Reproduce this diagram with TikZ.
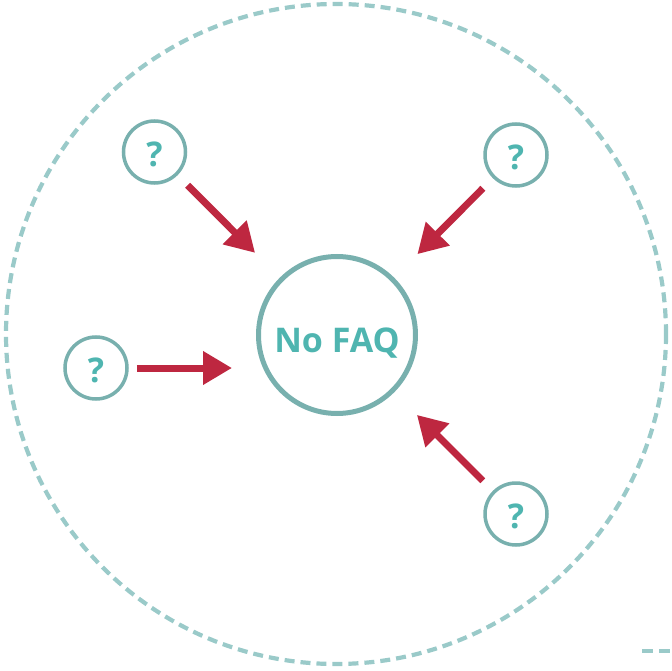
\documentclass[tikz,border=0pt]{standalone}
\usepackage{fontspec}
\setmainfont{Open Sans}
\usetikzlibrary{arrows.meta}
\definecolor{ringteal}{HTML}{9ACAC9}
\definecolor{circteal}{HTML}{78B0AE}
\definecolor{textteal}{HTML}{4FB5B0}
\definecolor{arrowred}{HTML}{BE2740}
\tikzset{
  outerring/.style={draw=ringteal, line width=4.2pt, dash pattern=on 10pt off 6pt},
  hub/.style={circle, draw=circteal, line width=5pt, minimum size=157pt, inner sep=0pt,
    text=textteal, text height=24pt, text depth=0pt,
    font=\bfseries\fontsize{34}{34}\selectfont},
  qbubble/.style={circle, draw=circteal, line width=3.5pt, minimum size=62pt, inner sep=0pt,
    text=textteal, text height=24pt, text depth=0pt,
    font=\bfseries\fontsize{34}{34}\selectfont},
  feed/.style={draw=arrowred, line width=7pt, -{Triangle[length=29pt,width=32pt]}},
}
\begin{document}
\begin{tikzpicture}[x=1pt,y=-1pt]
  \useasboundingbox (0,0) rectangle (672,671);
  % outer dashed ring
  \draw[outerring] (336,334) circle[radius=330];
  % short dashed stub in the corner
  \coordinate (stubA) at (642,651);
  \coordinate (stubB) at (672,651);
  \draw[draw=ringteal, line width=4pt, dash pattern=on 11pt off 6pt] (stubA) -- (stubB);
  % central node
  \node[hub] (hub) at (337,335) {\raisebox{-5pt}{No FAQ}};
  % question bubbles
  \node[qbubble] (qtl) at (154.5,152) {\raisebox{-2.5pt}{?}};
  \node[qbubble] (qtr) at (516,155) {\raisebox{-2.5pt}{?}};
  \node[qbubble] (ql)  at (96,368) {\raisebox{-2.5pt}{?}};
  \node[qbubble] (qbr) at (516,514) {\raisebox{-2.5pt}{?}};
  % arrows towards the hub
  \draw[feed, shorten <=47pt, shorten >=116pt] (qtl.center) -- (hub.center);
  \draw[feed, shorten <=47pt, shorten >=114pt] (qtr.center) -- (hub.center);
  \draw[feed, shorten <=47pt, shorten >=113pt] (qbr.center) -- (hub.center);
  \draw[feed, shorten <=8pt, shorten >=24pt] (ql.east) -- (ql.east -| hub.west);
\end{tikzpicture}
\end{document}
